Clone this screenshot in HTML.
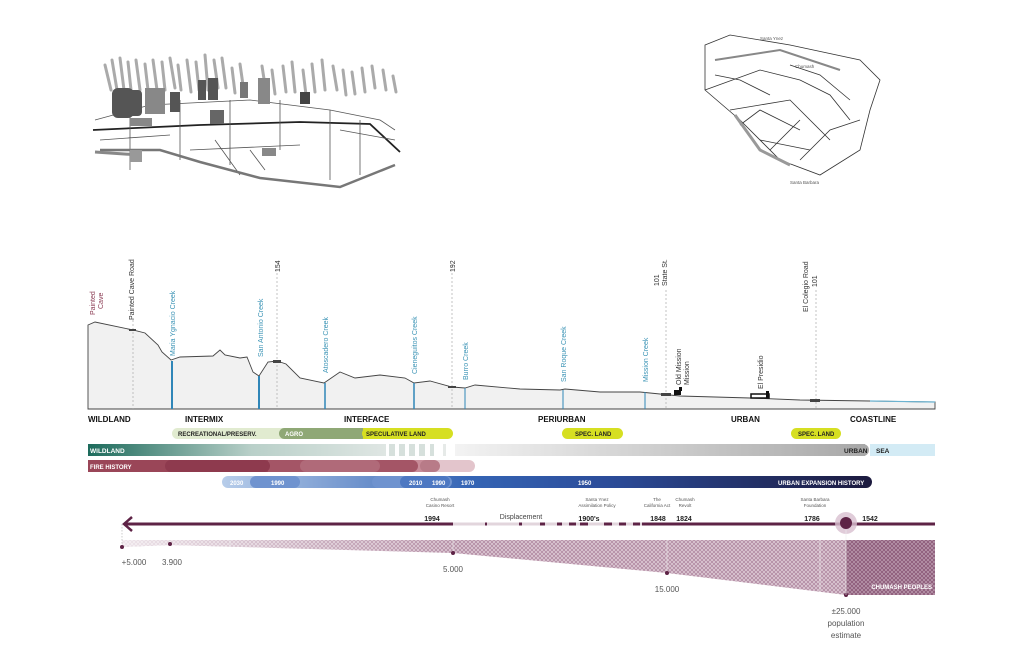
<!DOCTYPE html>
<html><head><meta charset="utf-8"><style>
html,body{margin:0;padding:0;background:#fff}
svg{display:block}
text{font-family:"Liberation Sans",sans-serif}
.b{font-weight:bold;font-size:8px;fill:#111}
.cr{font-size:7px;fill:#3a93b5}
.lb{font-size:7px;fill:#333}
.w{font-weight:bold;font-size:6px;fill:#fff}
.s{font-size:4.5px;fill:#555}
</style></head><body>
<svg width="1024" height="663" viewBox="0 0 1024 663" xmlns="http://www.w3.org/2000/svg">
<defs>
<linearGradient id="gw" x1="0" x2="1"><stop offset="0" stop-color="#1d6b5c"/><stop offset="0.55" stop-color="#b9d0c9"/><stop offset="1" stop-color="#dfe6e3"/></linearGradient>
<linearGradient id="gg" x1="0" x2="1"><stop offset="0" stop-color="#f3f3f3"/><stop offset="1" stop-color="#a8a8a8"/></linearGradient>
<linearGradient id="gu" x1="0" x2="1"><stop offset="0" stop-color="#b7cdea"/><stop offset="0.38" stop-color="#3565b5"/><stop offset="0.6" stop-color="#2b4b98"/><stop offset="1" stop-color="#1c1a3e"/></linearGradient>
<pattern id="h" width="4" height="4" patternUnits="userSpaceOnUse"><rect width="4" height="4" fill="#b58fa6"/><path d="M0 0L4 4M4 0L0 4" stroke="#e9dbe3" stroke-width="0.6"/></pattern>
<pattern id="h2" width="4" height="4" patternUnits="userSpaceOnUse"><rect width="4" height="4" fill="#8e5d7b"/><path d="M0 0L4 4M4 0L0 4" stroke="#c4a6b8" stroke-width="0.6"/></pattern>
<linearGradient id="gh" x1="0" x2="1"><stop offset="0" stop-color="#fff" stop-opacity="0.75"/><stop offset="0.6" stop-color="#fff" stop-opacity="0.25"/><stop offset="1" stop-color="#fff" stop-opacity="0"/></linearGradient>
</defs>

<!-- top-left sketch -->
<g fill="none" stroke="#aaa" stroke-width="3" stroke-linecap="round">
<path d="M105 65l6 25M112 60l5 30M120 58l4 32M128 62l3 28M136 60l4 30M145 64l3 26M153 60l4 30M162 62l3 28M170 58l5 30M178 65l3 25M187 60l4 32M196 62l3 28M205 55l3 35M214 60l4 28M222 58l4 30M232 68l3 25M240 64l4 28M262 66l4 26M272 70l3 24M283 66l3 26M292 62l3 30M303 70l3 25M312 64l3 28M322 60l3 30M333 66l4 24M343 70l3 25M352 72l3 22M362 68l3 24M372 66l3 22M383 70l3 20M393 76l3 16"/>
</g>
<g fill="none" stroke="#555" stroke-width="0.8">
<path d="M93 130L200 125L300 122L370 124L400 152" stroke="#222" stroke-width="1.8"/>
<path d="M95 120L150 105L250 100L330 110L380 120L395 130M100 140L170 135M190 150L300 145M340 130L395 140M130 100L130 170M180 100L180 160M230 100L230 165M280 100L280 150M330 110L330 180M360 120L360 175M215 140L240 175M250 150L265 170"/>
<path d="M100 150L160 150L200 162L260 178L340 187L395 165" stroke="#777" stroke-width="2.5"/>
<path d="M95 152L140 155" stroke="#888" stroke-width="3"/>
</g>
<g fill="#555"><rect x="112" y="88" width="22" height="30" rx="6"/><rect x="128" y="90" width="14" height="26" rx="4"/><rect x="145" y="88" width="20" height="26" fill="#888"/><rect x="170" y="92" width="10" height="20"/><rect x="198" y="80" width="8" height="20"/><rect x="208" y="78" width="10" height="22"/><rect x="258" y="78" width="12" height="26" fill="#888"/><rect x="240" y="82" width="8" height="16" fill="#777"/><rect x="262" y="148" width="14" height="8" fill="#888"/><rect x="130" y="118" width="22" height="8" fill="#888"/><rect x="210" y="110" width="14" height="14" fill="#666"/><rect x="130" y="150" width="12" height="12" fill="#999"/><rect x="300" y="92" width="10" height="12" fill="#444"/></g>
<!-- top-right sketch -->
<g fill="none" stroke="#333" stroke-width="0.8">
<path d="M705 45L730 35L790 45L860 60L880 80L870 110L860 150L820 175L780 160L740 120L705 90Z"/>
<path d="M705 90L760 70L800 80L830 95L850 120M730 110L790 100L830 140M760 140L810 150M790 65L820 75L850 100M740 125L760 110L800 130M770 150L800 120M715 75L740 80L770 95M800 160L830 130L860 120"/>
<path d="M715 60L780 50L840 70" stroke="#888" stroke-width="2"/>
<path d="M735 115L760 150L790 165" stroke="#999" stroke-width="3"/>
</g>
<text x="760" y="40" class="s">Santa Ynez</text><text x="795" y="68" class="s">Chumash</text><text x="790" y="184" class="s">Santa Barbara</text>

<!-- profile -->
<path d="M88 325L95 322L133 330L145 333L158 345L162 352L171 360L180 357L213 356L220 350L225 355L240 358L247 357L253 372L259 376L268 362L277 361L286 364L300 378L324 383L340 372L355 378L380 375L405 378L414 383L430 381L452 387L465 388L475 385L520 389L560 390L565 389L600 392L640 392L660 394L680 396L750 398L800 400L870 401L935 402L935 409L88 409Z" fill="#f1f1f1" stroke="#444" stroke-width="0.9"/>
<path d="M870 401L935 402" stroke="#6bb3d1" stroke-width="1.2"/>
<g stroke="#aaa" stroke-width="0.7" stroke-dasharray="2 2">
<line x1="133" y1="320" x2="133" y2="409"/><line x1="277" y1="265" x2="277" y2="409"/><line x1="452" y1="265" x2="452" y2="409"/><line x1="666" y1="290" x2="666" y2="409"/><line x1="816" y1="290" x2="816" y2="409"/>
</g>
<g stroke="#2f86b8">
<line x1="172" y1="361" x2="172" y2="409" stroke-width="2"/><line x1="259" y1="376" x2="259" y2="409" stroke-width="2"/><line x1="325" y1="383" x2="325" y2="409" stroke-width="1.5"/><line x1="414" y1="383" x2="414" y2="409" stroke-width="1.5"/><line x1="465" y1="388" x2="465" y2="409" stroke-width="1"/><line x1="563" y1="390" x2="563" y2="409" stroke-width="1"/><line x1="645" y1="392" x2="645" y2="409" stroke-width="1"/>
</g>
<g fill="#444"><rect x="129" y="329" width="7" height="2"/><rect x="273" y="360" width="8" height="3"/><rect x="448" y="386" width="8" height="2"/><rect x="661" y="393" width="10" height="3"/><rect x="810" y="399" width="10" height="3"/></g>
<g fill="#111"><rect x="674" y="390" width="7" height="5"/><rect x="679" y="387" width="3" height="4"/><rect x="751" y="394" width="18" height="4" fill="none" stroke="#111" stroke-width="1.5"/><rect x="766" y="391" width="3" height="7"/></g>
<g class="cr">
<text transform="translate(175,356) rotate(-90)">Maria Ygnacio Creek</text>
<text transform="translate(263,357) rotate(-90)">San Antonio Creek</text>
<text transform="translate(328,373) rotate(-90)">Atoscadero Creek</text>
<text transform="translate(417,374) rotate(-90)">Cieneguitos Creek</text>
<text transform="translate(468,380) rotate(-90)">Burro Creek</text>
<text transform="translate(566,382) rotate(-90)">San Roque Creek</text>
<text transform="translate(648,382) rotate(-90)">Mission Creek</text>
</g>
<g class="lb">
<text transform="translate(95,315) rotate(-90)" fill="#8a3a52">Painted</text>
<text transform="translate(103,309) rotate(-90)" fill="#8a3a52">Cave</text>
<text transform="translate(134,320) rotate(-90)">Painted Cave Road</text>
<text transform="translate(280,272) rotate(-90)">154</text>
<text transform="translate(455,272) rotate(-90)">192</text>
<text transform="translate(659,286) rotate(-90)">101</text>
<text transform="translate(667,286) rotate(-90)">State St.</text>
<text transform="translate(681,385) rotate(-90)">Old Mission</text>
<text transform="translate(689,385) rotate(-90)">Mission</text>
<text transform="translate(763,389) rotate(-90)">El Presidio</text>
<text transform="translate(808,312) rotate(-90)">El Colegio Road</text>
<text transform="translate(817,287) rotate(-90)">101</text>
</g>

<!-- zone labels -->
<g class="b"><text x="88" y="422">WILDLAND</text><text x="185" y="422">INTERMIX</text><text x="344" y="422">INTERFACE</text><text x="538" y="422">PERIURBAN</text><text x="731" y="422">URBAN</text><text x="850" y="422">COASTLINE</text></g>

<!-- pills -->
<rect x="172" y="428" width="130" height="11" rx="5.5" fill="#e1ebd0"/>
<rect x="279" y="428" width="90" height="11" rx="5.5" fill="#8fa876"/>
<rect x="362" y="428" width="91" height="11" rx="5.5" fill="#d6df22"/>
<rect x="363" y="428" width="10" height="11" fill="#d6df22"/>
<rect x="562" y="428" width="61" height="11" rx="5.5" fill="#d6df22"/>
<rect x="791" y="428" width="50" height="11" rx="5.5" fill="#d6df22"/>
<g font-weight="bold" font-size="6px"><text x="178" y="436" fill="#222">RECREATIONAL/PRESERV.</text><text x="285" y="436" fill="#fff">AGRO</text><text x="366" y="436" fill="#222">SPECULATIVE LAND</text><text x="575" y="436" fill="#222">SPEC. LAND</text><text x="798" y="436" fill="#222">SPEC. LAND</text></g>

<!-- wildland bar -->
<rect x="88" y="444" width="298" height="12" fill="url(#gw)"/>
<g fill="#d6e0dc"><rect x="389" y="444" width="6" height="12"/><rect x="399" y="444" width="6" height="12"/><rect x="409" y="444" width="6" height="12"/><rect x="419" y="444" width="6" height="12"/><rect x="430" y="444" width="4" height="12"/><rect x="443" y="444" width="3" height="12" fill="#e6eae8"/></g>
<rect x="455" y="444" width="410" height="12" fill="url(#gg)"/>
<rect x="855" y="444" width="14" height="12" rx="6" fill="#a8a8a8"/>
<rect x="870" y="444" width="65" height="12" fill="#d3ebf5"/>
<g font-weight="bold" font-size="6.5px"><text x="90" y="453" fill="#fff">WILDLAND</text><text x="844" y="453" fill="#222">URBAN</text><text x="876" y="453" fill="#222">SEA</text></g>

<!-- fire history -->
<rect x="88" y="460" width="387" height="12" rx="6" fill="#e3c5cc"/>
<rect x="88" y="460" width="350" height="12" rx="6" fill="#c88c99"/>
<rect x="88" y="460" width="330" height="12" rx="6" fill="#a45566"/>
<rect x="88" y="460" width="180" height="12" fill="#9a4658"/>
<rect x="165" y="460" width="105" height="12" rx="6" fill="#8e3a4e"/>
<rect x="300" y="460" width="80" height="12" rx="6" fill="#b06a79"/>
<rect x="420" y="460" width="20" height="12" rx="6" fill="#b87b88"/>
<text x="90" y="469" class="w" font-size="6.5px">FIRE HISTORY</text>

<!-- urban expansion -->
<rect x="222" y="476" width="650" height="12" rx="6" fill="url(#gu)"/>
<rect x="250" y="476" width="50" height="12" rx="6" fill="#6f93cf"/>
<rect x="372" y="476" width="80" height="12" rx="6" fill="#6f93cf"/>
<rect x="400" y="476" width="50" height="12" rx="6" fill="#4d78c2"/>
<g class="w" font-size="6.5px"><text x="230" y="485">2030</text><text x="271" y="485">1990</text><text x="409" y="485">2010</text><text x="432" y="485">1990</text><text x="461" y="485">1970</text><text x="578" y="485">1950</text><text x="778" y="485">URBAN EXPANSION HISTORY</text></g>

<!-- timeline -->
<g class="s" text-anchor="middle">
<text x="440" y="501">Chumash</text><text x="440" y="507">Casino Resort</text>
<text x="597" y="501">Santa Ynez</text><text x="597" y="507">Assimilation Policy</text>
<text x="657" y="501">The</text><text x="657" y="507">California Act</text>
<text x="685" y="501">Chumash</text><text x="685" y="507">Revolt</text>
<text x="815" y="501">Santa Barbara</text><text x="815" y="507">Foundation</text>
</g>
<g font-weight="bold" font-size="7px" fill="#222" text-anchor="middle"><text x="432" y="521">1994</text><text x="589" y="521">1900's</text><text x="658" y="521">1848</text><text x="684" y="521">1824</text><text x="812" y="521">1786</text><text x="870" y="521">1542</text></g>
<text x="521" y="519" font-size="7px" fill="#444" text-anchor="middle">Displacement</text>
<line x1="125" y1="524" x2="453" y2="524" stroke="#5e2346" stroke-width="3"/>
<line x1="453" y1="524" x2="672" y2="524" stroke="#e2d5dc" stroke-width="3"/>
<g stroke="#5e2346" stroke-width="3"><line x1="485" y1="524" x2="487" y2="524"/><line x1="519" y1="524" x2="522" y2="524"/><line x1="540" y1="524" x2="545" y2="524"/><line x1="557" y1="524" x2="562" y2="524"/><line x1="569" y1="524" x2="576" y2="524"/><line x1="580" y1="524" x2="588" y2="524"/><line x1="604" y1="524" x2="612" y2="524"/><line x1="619" y1="524" x2="626" y2="524"/><line x1="633" y1="524" x2="640" y2="524"/></g>
<line x1="642" y1="524" x2="935" y2="524" stroke="#5e2346" stroke-width="3"/>
<path d="M132 517L124 524L132 531" fill="none" stroke="#5e2346" stroke-width="2.5"/>
<circle cx="846" cy="523" r="11" fill="#d8bfd0" opacity="0.8"/><circle cx="846" cy="523" r="6" fill="#5e2346"/>

<!-- wedge -->
<path d="M122 540L846 540L846 595L667 573L453 553L170 545L122 547Z" fill="url(#h)"/>
<path d="M122 540L453 540L453 553L170 545L122 547Z" fill="url(#gh)"/>
<rect x="846" y="540" width="89" height="55" fill="url(#h2)"/>
<g stroke="#eee" stroke-width="0.6"><line x1="453" y1="540" x2="453" y2="553"/><line x1="667" y1="540" x2="667" y2="573"/><line x1="820" y1="540" x2="820" y2="592"/><line x1="230" y1="540" x2="230" y2="546"/></g>
<line x1="122" y1="524" x2="122" y2="547" stroke="#aaa" stroke-width="0.6" stroke-dasharray="1.5 1.5"/>
<g fill="#5e2346"><circle cx="122" cy="547" r="2"/><circle cx="170" cy="544" r="2"/><circle cx="453" cy="553" r="2"/><circle cx="667" cy="573" r="2"/><circle cx="846" cy="595" r="2"/></g>
<line x1="846" y1="530" x2="846" y2="595" stroke="#eee" stroke-width="0.6"/>
<text x="932" y="589" class="w" font-size="6.5px" text-anchor="end">CHUMASH PEOPLES</text>
<g font-size="8px" fill="#555" text-anchor="middle"><text x="134" y="565">+5.000</text><text x="172" y="565">3.900</text><text x="453" y="572">5.000</text><text x="667" y="592">15.000</text><text x="846" y="614">±25.000</text><text x="846" y="626">population</text><text x="846" y="638">estimate</text></g>
</svg>
</body></html>
